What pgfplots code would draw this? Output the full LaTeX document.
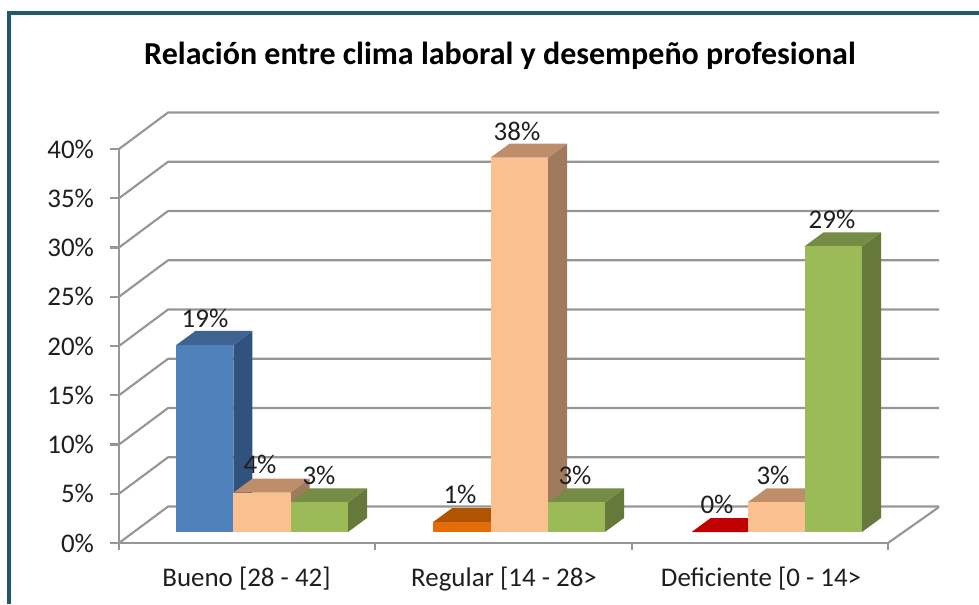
\documentclass[border=0pt]{standalone}
\usepackage{fontspec}
\setmainfont{Carlito}
\usepackage{pgfplots}
\pgfplotsset{compat=1.18}
\definecolor{gridc}{HTML}{969696}
\definecolor{frame}{HTML}{215968}
\definecolor{txt}{HTML}{1E1E1E}
\definecolor{bluef}{HTML}{4F81BD}\definecolor{blues}{HTML}{31527E}\definecolor{bluet}{HTML}{3F6390}
\definecolor{peachf}{HTML}{FAC090}\definecolor{peachs}{HTML}{A07A5C}\definecolor{peacht}{HTML}{BE8E6A}
\definecolor{greenf}{HTML}{9BBB59}\definecolor{greens}{HTML}{66793A}\definecolor{greent}{HTML}{758C44}
\definecolor{orangef}{HTML}{E46C0A}\definecolor{oranges}{HTML}{B05400}\definecolor{oranget}{HTML}{B05400}
\definecolor{redf}{HTML}{C00000}
% #1 left, #2 right, #3 value, #4 front, #5 side, #6 top
\newcommand\drawbar[6]{%
  \addplot[fill=#5,draw=none,yshift=8.25pt] coordinates {(#2,0) ({#2+19},1.42) ({#2+19},{#3+1.42}) (#2,#3)};
  \addplot[fill=#6,draw=none,yshift=8.25pt] coordinates {(#1,#3) ({#1+19},{#3+1.42}) ({#2+19},{#3+1.42}) (#2,#3)};
  \addplot[fill=#4,draw=none,yshift=8.25pt] coordinates {(#1,0) (#1,#3) (#2,#3) (#2,0)};
}
\newcommand\grid[1]{\addplot[gridc,line width=1.6pt,line join=miter] coordinates {(119,#1) (168,{#1+3.7}) (939,{#1+3.7})};}
\begin{document}
\begin{tikzpicture}
\useasboundingbox (0,0) rectangle (734.25pt,453pt);
\begin{axis}[
  at={(89.25pt,45.75pt)},anchor=south west,
  scale only axis,width=576.75pt,height=295.5pt,
  xmin=119,xmax=888,ymin=0,ymax=40,clip=false,no markers,
  axis x line*=bottom,axis y line*=left,
  axis line style={gridc,line width=1.6pt},
  tick align=outside,
  ytick={0,5,...,40},
  yticklabel={\pgfmathprintnumber{\tick}\%},
  /pgf/number format/assume math mode=true,
  ytick style={gridc,line width=1.6pt},
  major tick length=6.75pt,
  xtick={246.5,504,761},
  xticklabels={Bueno [28 - 42],Regular [14 - 28>,Deficiente [0 - 14>},
  x tick style={draw=none},
  minor xtick={119,375,632,888},
  minor tick length=5.25pt,
  minor x tick style={draw=gridc,line width=1.6pt},
  tick label style={font=\fontsize{20.2}{24}\selectfont,text=txt},
  y tick label style={xshift=-8.5pt},
  x tick label style={yshift=-7.5pt},
]
\draw[frame,line width=3pt] (axis cs:979,53.76) -- (axis cs:9,53.76) -- (axis cs:9,-6.2);
\grid{0}\grid{5}\grid{10}\grid{15}\grid{20}\grid{25}\grid{30}\grid{35}\grid{40}
\addplot[gridc,line width=1.6pt,line join=miter] coordinates {(939,3.65) (888,0)};
\drawbar{176.5}{233.5}{19}{bluef}{blues}{bluet}
\drawbar{233.5}{290.5}{4}{peachf}{peachs}{peacht}
\drawbar{290.5}{348}{3}{greenf}{greens}{greent}
\drawbar{433}{490.5}{1}{orangef}{oranges}{oranget}
\drawbar{490.5}{548}{38}{peachf}{peachs}{peacht}
\drawbar{548}{605}{3}{greenf}{greens}{greent}
\drawbar{691.7}{747.5}{0}{redf}{redf}{redf}
\drawbar{747.5}{804.5}{3}{peachf}{peachs}{peacht}
\drawbar{804.5}{862}{29}{greenf}{greens}{greent}
\begin{scope}[every node/.style={font=\fontsize{20.2}{24}\selectfont,text=txt}]
\node at (axis cs:205,22.84) {19\%};
\node at (axis cs:260,8.02) {4\%};
\node at (axis cs:319,6.9) {3\%};
\node at (axis cs:460,4.97) {1\%};
\node at (axis cs:517,41.83) {38\%};
\node at (axis cs:575,6.9) {3\%};
\node at (axis cs:717,3.96) {0\%};
\node at (axis cs:773,6.9) {3\%};
\node at (axis cs:832,32.89) {29\%};
\end{scope}
\node[font=\fontsize{24}{28}\selectfont\bfseries,text=black] at (axis cs:500,49.45) {Relación entre clima laboral y desempeño profesional};
\end{axis}
\end{tikzpicture}
\end{document}
